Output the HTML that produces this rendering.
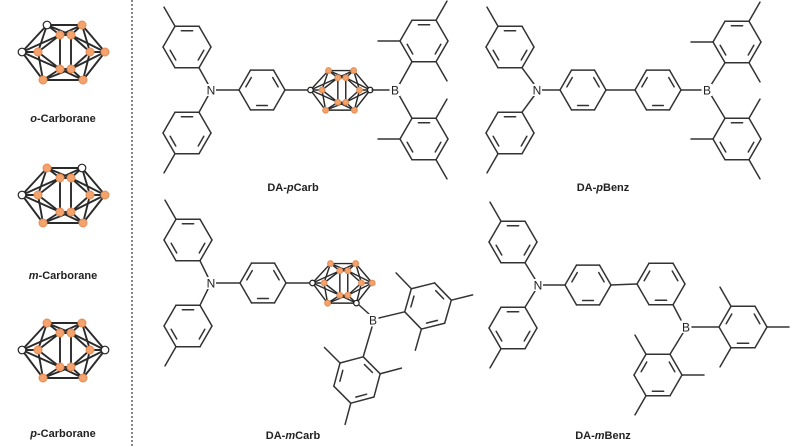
<!DOCTYPE html>
<html><head><meta charset="utf-8">
<style>
html,body{margin:0;padding:0;background:#fff;}
svg{display:block}
text{font-family:"Liberation Sans",sans-serif;}
</style></head>
<body>
<svg id="s" width="800" height="447" viewBox="0 0 800 447" xmlns="http://www.w3.org/2000/svg">
<line x1="132" y1="0" x2="132" y2="447" stroke="#444" stroke-width="1.3" stroke-dasharray="2,2"/>
<g font-weight="bold" font-size="11" fill="#222" text-anchor="middle">
<text x="63" y="122"><tspan font-style="italic">o</tspan>-Carborane</text>
<text x="63" y="279"><tspan font-style="italic">m</tspan>-Carborane</text>
<text x="63" y="437"><tspan font-style="italic">p</tspan>-Carborane</text>
<text x="293" y="191">DA-<tspan font-style="italic">p</tspan>Carb</text>
<text x="603" y="191">DA-<tspan font-style="italic">p</tspan>Benz</text>
<text x="293" y="439">DA-<tspan font-style="italic">m</tspan>Carb</text>
<text x="603" y="439">DA-<tspan font-style="italic">m</tspan>Benz</text>
</g>
<g id="g" stroke="#333" stroke-width="1.5" fill="none" stroke-linecap="round"></g>
<g id="t" font-size="12" fill="#222" text-anchor="middle"></g>
</svg>
<script>
var g=document.getElementById('g'),T=document.getElementById('t');
var NS="http://www.w3.org/2000/svg";
function L(a,b,c,d,col,w){var e=document.createElementNS(NS,'line');e.setAttribute('x1',a);e.setAttribute('y1',b);e.setAttribute('x2',c);e.setAttribute('y2',d);if(col)e.setAttribute('stroke',col);if(w)e.setAttribute('stroke-width',w);g.appendChild(e);}
function C(x,y,r,fill,st){var e=document.createElementNS(NS,'circle');e.setAttribute('cx',x);e.setAttribute('cy',y);e.setAttribute('r',r);e.setAttribute('fill',fill);e.setAttribute('stroke',st);e.setAttribute('stroke-width',1.2);g.appendChild(e);}
function lab(x,y,s){var e=document.createElementNS(NS,'text');e.setAttribute('x',x);e.setAttribute('y',y+4.5);e.textContent=s;
 var bg=document.createElementNS(NS,'rect');bg.setAttribute('x',x-5);bg.setAttribute('y',y-6);bg.setAttribute('width',10);bg.setAttribute('height',12);bg.setAttribute('fill','#fff');T.appendChild(bg);T.appendChild(e);}
var D=Math.PI/180;
function ring(cx,cy,r,th,subs,ml,dbOff){
 var v=[];for(var k=0;k<6;k++){var a=(th+60*k)*D;v.push([cx+r*Math.cos(a),cy+r*Math.sin(a)]);}
 for(var k=0;k<6;k++){var p=v[k],q=v[(k+1)%6];L(p[0],p[1],q[0],q[1]);
  if((k+(dbOff||0))%2==1){var f=0.78,s=0.2;
   var p2=[cx+(p[0]-cx)*f,cy+(p[1]-cy)*f],q2=[cx+(q[0]-cx)*f,cy+(q[1]-cy)*f];
   L(p2[0]+(q2[0]-p2[0])*s,p2[1]+(q2[1]-p2[1])*s,q2[0]-(q2[0]-p2[0])*s,q2[1]-(q2[1]-p2[1])*s);}}
 (subs||[]).forEach(function(k){var a=(th+60*k)*D,p=v[k];L(p[0],p[1],p[0]+ml*Math.cos(a),p[1]+ml*Math.sin(a));});
 return v;
}
var CV={L:[-41,0],TL:[-16,-27],TR:[19,-27],R:[42,0],IR:[27,0],IL:[-25,0],U1:[-3,-17],U2:[8,-17],D1:[-3,17],D2:[8,17],BL:[-20,28],BR:[20,28]};
var CE=[["L","TL"],["TL","TR"],["TR","R"],["R","BR"],["BR","BL"],["BL","L"],["L","U1"],["L","D1"],["L","IL"],["IL","TL"],["IL","BL"],["IL","U1"],["IL","D1"],["U1","U2"],["D1","D2"],["U1","D1"],["U2","D2"],["TL","U1"],["TL","U2"],["TR","U2"],["TR","IR"],["R","IR"],["IR","U2"],["IR","D2"],["BR","D2"],["BR","IR"],["BL","D1"],["BL","D2"],["BR","D1"],["R","U2"],["R","D2"],["TR","U1"]];
function carb(cx,cy,s,blacks){
 function P(n){return [cx+CV[n][0]*s,cy+CV[n][1]*s];}
 CE.forEach(function(e){var a=P(e[0]),b=P(e[1]);L(a[0],a[1],b[0],b[1],'#2a2a2a',1.6*s+0.3);});
 for(var n in CV){var p=P(n);if(blacks.indexOf(n)>=0)C(p[0],p[1],3.8*s,'#fff','#222');else C(p[0],p[1],3.9*s,'#f2a36e','#e89058');}
}
carb(63,52,1,["L","TL"]);
carb(63,195,1,["L","TR"]);
carb(63,350,1,["L","R"]);
var R=24;
function triaryl(Nx,Ny,tx){
 var tt=ring(tx,Ny-43,R,60,[3],22,0);L(tt[0][0],tt[0][1],Nx-3,Ny-6);
 var bt=ring(tx,Ny+43,R,-60,[3],22,0);L(bt[0][0],bt[0][1],Nx-3,Ny+6);
 lab(Nx,Ny,'N');
}
// DA-pCarb
triaryl(211,90,187);
var ph=ring(262,90,23,180,[],0,1);L(216,90,ph[0][0],ph[0][1]);L(ph[3][0],ph[3][1],310,90);
carb(340,90,0.72,["L","R"]);
L(372,90,389,90);
lab(395,90,'B');
var m1=ring(424,41,R,120,[1,5,3],22,1);L(399,85,m1[0][0],m1[0][1]);
var m2=ring(424,139,R,-120,[1,5,3],22,1);L(399,95,m2[0][0],m2[0][1]);
// DA-pBenz
triaryl(537,90,510);
var p1=ring(583,90,23,180,[],0,1);L(542,90,p1[0][0],p1[0][1]);
var p2=ring(658,90,23,180,[],0,1);L(p1[3][0],p1[3][1],p2[0][0],p2[0][1]);L(p2[3][0],p2[3][1],701,90);
lab(707,90,'B');
var m3=ring(737,42,R,120,[1,5,3],22,1);L(711,85,m3[0][0],m3[0][1]);
var m4=ring(737,139,R,-120,[1,5,3],22,1);L(711,95,m4[0][0],m4[0][1]);
// DA-mCarb
triaryl(211,283,188);
var ph2=ring(263,283,23,180,[],0,1);L(216,283,ph2[0][0],ph2[0][1]);L(ph2[3][0],ph2[3][1],312,283);
carb(342,283,0.72,["L","BR"]);
L(359,305,369,314);
lab(373,320,'B');
var m5=ring(428,306,R,166,[1,5,3],22,1);L(379,318,m5[0][0],m5[0][1]);
var m6=ring(357,380,R,-75,[1,5,3],22,1);L(372,327,m6[0][0],m6[0][1]);
// DA-mBenz
triaryl(538,285,513);
var q1=ring(588,285,23,180,[],0,1);L(543,285,q1[0][0],q1[0][1]);
var q2=ring(661,284,24,180,[],0,1);L(q1[3][0],q1[3][1],q2[0][0],q2[0][1]);
L(q2[4][0],q2[4][1],681,320);
lab(686,327,'B');
var m7=ring(743,327,R,180,[1,5,3],22,1);L(692,327,m7[0][0],m7[0][1]);
var m8=ring(658,375,R,-60,[1,5,3],22,1);L(683,333,m8[0][0],m8[0][1]);
</script>
</body></html>
